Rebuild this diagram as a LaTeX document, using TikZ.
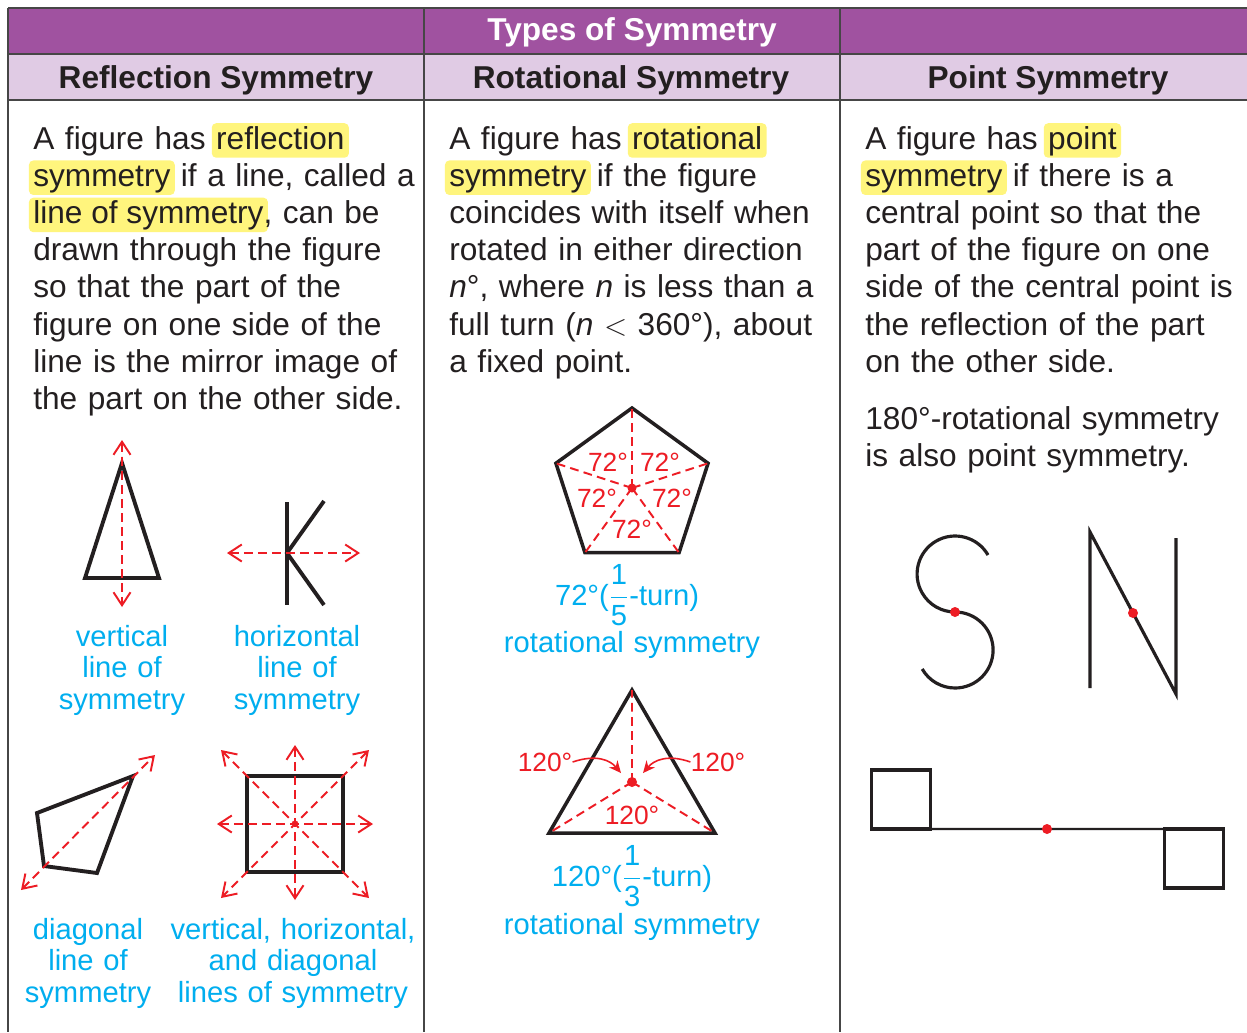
\documentclass[tikz,border=0pt]{standalone}
\usepackage{amsmath}
\usepackage{fontspec}
\setmainfont{Liberation Sans}
\usetikzlibrary{arrows.meta}

\definecolor{headpurple}{RGB}{160,82,160}
\definecolor{subpurple}{RGB}{224,203,228}
\definecolor{symred}{RGB}{237,28,36}
\definecolor{symblue}{RGB}{0,174,239}
\definecolor{hlyellow}{RGB}{255,245,125}
\definecolor{inkgray}{RGB}{35,31,32}
\definecolor{rulegray}{RGB}{70,70,70}

\tikzset{
  hlbox/.style={fill=hlyellow, rounded corners=2.5pt, inner xsep=2.5pt,
    inner ysep=1pt, text height=0.76em, text depth=0.22em}
}
% highlighted word inside the running text
\newcommand{\hlw}[1]{\leavevmode\kern-2.5pt\relax
  \tikz[baseline=(hw.base)]\node[hlbox] (hw) {#1};\kern-2.5pt\relax}

\begin{document}
\begin{tikzpicture}
  [x=0.02cm, y=-0.02cm,
   bodytext/.style={anchor=base west, inner sep=0pt, align=left, text width=8.2cm,
     text=inkgray, font=\fontsize{18}{21.2}\selectfont},
   headtext/.style={anchor=base, inner sep=0pt, font=\fontsize{18}{21}\selectfont\bfseries},
   bluelabel/.style={anchor=base, inner sep=0pt, align=center, text width=5.4cm,
     text=symblue, font=\fontsize{16.6}{18.2}\selectfont},
   anglabel/.style={inner sep=0pt, text=symred, font=\fontsize{15}{17}\selectfont},
   tablerule/.style={draw=rulegray, line width=0.8pt},
   figline/.style={draw=inkgray, line width=2.2pt},
   thinfig/.style={draw=inkgray, line width=1.8pt},
   symline/.style={symred, line width=1.1pt, dash pattern=on 5pt off 3pt},
   symarrow/.style={symline, {Straight Barb[length=2.6mm,width=3.4mm]}-{Straight Barb[length=2.6mm,width=3.4mm]}},
   sqbox/.style={draw=inkgray, line width=2pt, minimum size=1.18cm, inner sep=0pt, outer sep=0pt}]
  \path[use as bounding box, fill=white] (0,0) rectangle (1247,1032);

  % table head and rules
  \fill[headpurple] (8,8) rectangle (1247,54);
  \fill[subpurple] (8,54) rectangle (1247,100);
  \draw[tablerule] (8,8) -- (1247,8) (8,54) -- (1247,54) (8,100) -- (1247,100);
  \draw[tablerule] (8,8) -- (8,1032) (424,8) -- (424,1032) (840,8) -- (840,1032);
  \node[headtext, text=white] (title) at (632,40) {Types of Symmetry};
  \node[headtext, text=inkgray] (hrefl) at (216,88) {Reflection Symmetry};
  \node[headtext, text=inkgray] (hrot) at (631,88) {Rotational Symmetry};
  \node[headtext, text=inkgray] (hpoint) at (1048,88) {Point Symmetry};

  % definitions
  \node[bodytext] (defrefl) at (33,149) {A figure has \hlw{reflection}\\
    \hlw{symmetry} if a line, called a\\
    \hlw{line of symmetry}, can be\\
    drawn through the figure\\
    so that the part of the\\
    figure on one side of the\\
    line is the mirror image of\\
    the part on the other side.};
  \node[bodytext] (defrot) at (449,149) {A figure has \hlw{rotational}\\
    \hlw{symmetry} if the figure\\
    coincides with itself when\\
    rotated in either direction\\
    \textit{n}°, where \textit{n} is less than a\\
    full turn (\textit{n} $<$ 360°), about\\
    a fixed point.};
  \node[bodytext] (defpoint) at (865,149) {A figure has \hlw{point}\\
    \hlw{symmetry} if there is a\\
    central point so that the\\
    part of the figure on one\\
    side of the central point is\\
    the reflection of the part\\
    on the other side.};
  \node[bodytext] (note180) at (865,429) {180°-rotational symmetry\\
    is also point symmetry.};

  % reflection: vertical line
  \draw[figline] (122,463) -- (159,578) -- (85,578) -- cycle;
  \draw[symarrow] (122,440) -- (122,607);
  \node[bluelabel] (lblvert) at (122,646) {vertical\\line of\\symmetry};

  % reflection: horizontal line
  \draw[figline] (287,502) -- (287,605);
  \draw[figline] (324,501) -- (287,553) -- (324,605);
  \draw[symarrow] (227,553) -- (360,553);
  \node[bluelabel] (lblhor) at (297,646) {horizontal\\line of\\symmetry};

  % reflection: diagonal line
  \draw[figline] (37,813) -- (44,866) -- (97,873) -- (133,776) -- cycle;
  \draw[symarrow] (21,890) -- (155,755);
  \node[bluelabel] (lbldiag) at (88,939) {diagonal\\line of\\symmetry};

  % reflection: square, four lines
  \draw[figline] (247,776) rectangle (343,872);
  \draw[symarrow] (217,824) -- (373,824);
  \draw[symarrow] (295,745) -- (295,900);
  \draw[symarrow] (221,750) -- (369,898);
  \draw[symarrow] (369,750) -- (221,898);
  \node[bluelabel] (lblall) at (293,939) {vertical, horizontal,\\and diagonal\\lines of symmetry};

  % rotation: pentagon
  \coordinate (pc) at (632,488);
  \draw[figline, line width=2pt, shift={(632,488)}] (-90:80) -- (-18:80) -- (54:80) -- (126:80) -- (198:80) -- cycle;
  \foreach \a in {-90,-18,54,126,198}
    \draw[symline] (pc) -- ++(\a:80);
  \fill[symred] (pc) circle[radius=0.09cm];
  \node[anglabel] (p72a) at (608,462) {72°};
  \node[anglabel] (p72b) at (660,462) {72°};
  \node[anglabel] (p72c) at (597,498) {72°};
  \node[anglabel] (p72d) at (672,498) {72°};
  \node[anglabel] (p72e) at (632,529) {72°};
  \node[bluelabel] (lblfifth) at (627,605) {72°($\dfrac{\mbox{1}}{\mbox{5}}$-turn)};
  \node[bluelabel] (lblrota) at (632,652) {rotational symmetry};

  % rotation: triangle
  \coordinate (tc) at (632,782);
  \draw[figline, line width=2pt] (632,690) -- (715,833) -- (549,833) -- cycle;
  \draw[symline] (tc) -- (632,690) (tc) -- (715,833) (tc) -- (549,833);
  \fill[symred] (tc) circle[radius=0.1cm];
  \node[anglabel] (t120l) at (545,762) {120°};
  \node[anglabel] (t120r) at (718,762) {120°};
  \node[anglabel] (t120b) at (632,815) {120°};
  \coordinate (tcl) at (621,773);
  \coordinate (tcr) at (643,773);
  \draw[symred, line width=0.9pt, -{Stealth[length=2.4mm,width=2.2mm]}]
    (t120l.east) .. controls (596,754) and (610,760) .. (tcl);
  \draw[symred, line width=0.9pt, -{Stealth[length=2.4mm,width=2.2mm]}]
    (t120r.west) .. controls (668,754) and (654,760) .. (tcr);
  \node[bluelabel] (lblthird) at (632,886) {120°($\dfrac{\mbox{1}}{\mbox{3}}$-turn)};
  \node[bluelabel] (lblrotb) at (632,934) {rotational symmetry};

  % point symmetry: S and N
  \draw[thinfig] (988,555) arc[start angle=-30, end angle=-270, radius=38]
    arc[start angle=-90, end angle=150, radius=38];
  \fill[symred] (955,612) circle[radius=0.1cm];
  \draw[thinfig] (1090,688) -- (1090,532) -- (1176,694) -- (1176,538);
  \fill[symred] (1133,613) circle[radius=0.1cm];

  % point symmetry: two squares
  \node[sqbox] (sqa) at (901,799.5) {};
  \node[sqbox] (sqb) at (1194,858.5) {};
  \draw[draw=inkgray, line width=1.2pt] (sqa.south east) -- (sqb.north west);
  \fill[symred] (1047,829) circle[radius=0.1cm];
\end{tikzpicture}
\end{document}
